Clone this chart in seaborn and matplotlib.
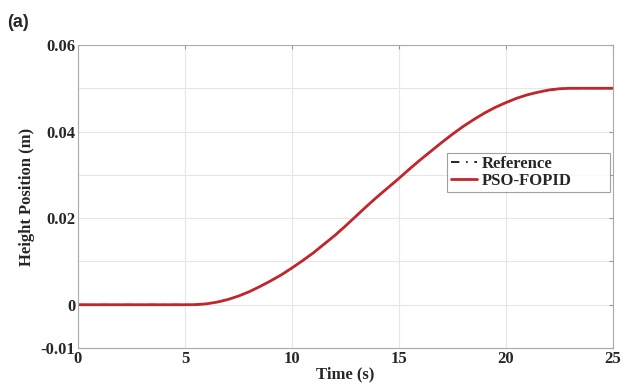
import numpy as np
import pandas as pd
import matplotlib.pyplot as plt
import seaborn as sns

# values (time in s, height in m)
time_s = [0, 1, 2, 3, 4, 5, 5.5, 6, 6.5, 7, 7.5, 8, 8.5, 9, 9.5, 10, 10.5, 11, 11.5,
          12, 12.5, 13, 13.5, 14, 14.5, 15, 15.5, 16, 16.5, 17, 17.5, 18, 18.5,
          19, 19.5, 20, 20.5, 21, 21.5, 22, 22.5, 23, 24, 25]
reference = [0, 0, 0, 0, 0, 0, 0.00002, 0.0002, 0.0006, 0.0012, 0.0020, 0.0030,
             0.0042, 0.0055, 0.0069, 0.0085, 0.0102, 0.0120, 0.0140, 0.0160,
             0.0182, 0.0205, 0.0228, 0.0250, 0.0271, 0.0292, 0.0314, 0.0335,
             0.0355, 0.0375, 0.0394, 0.0412, 0.0428, 0.0443, 0.0456, 0.0467,
             0.0477, 0.0485, 0.0491, 0.0496, 0.0499, 0.0500, 0.0500, 0.0500]
pso_fopid = [0, 0, 0, 0, 0, 0, 0.00002, 0.0002, 0.0006, 0.0012, 0.0020, 0.0030,
             0.0042, 0.0055, 0.0069, 0.0085, 0.0102, 0.0120, 0.0140, 0.0160,
             0.0182, 0.0205, 0.0228, 0.0250, 0.0271, 0.0292, 0.0314, 0.0335,
             0.0355, 0.0375, 0.0394, 0.0412, 0.0428, 0.0443, 0.0456, 0.0467,
             0.0477, 0.0485, 0.0491, 0.0496, 0.0499, 0.0500, 0.0500, 0.0500]
x_ticks = [0, 5, 10, 15, 20, 25]
y_ticks = [-0.01, 0, 0.01, 0.02, 0.03, 0.04, 0.05, 0.06]
y_labels = ['-0.01', '0', '', '0.02', '', '0.04', '', '0.06']

df = pd.DataFrame({'t': time_s, 'ref': reference, 'pso': pso_fopid})

sns.set_style('white')
plt.rcParams['font.family'] = ['Liberation Serif', 'DejaVu Serif']
plt.rcParams['font.weight'] = 'bold'

fig = plt.figure(figsize=(6.32, 3.88), dpi=100)
ax = fig.add_axes([0.1234, 0.1031, 0.8466, 0.7809])

sns.lineplot(data=df, x='t', y='pso', ax=ax, color='#c0262b', linewidth=2.0,
             label='PSO-FOPID', zorder=2)
sns.lineplot(data=df, x='t', y='ref', ax=ax, color='black', linewidth=1.2,
             linestyle=(0, (5, 4, 1, 4)), label='Reference', zorder=1)

ax.set_xlim(0, 25)
ax.set_ylim(-0.01, 0.06)
ax.set_xticks(x_ticks)
ax.set_xticklabels([str(v) for v in x_ticks], fontsize=12, fontweight='bold')
ax.set_yticks(y_ticks)
ax.set_yticklabels(y_labels, fontsize=12, fontweight='bold')
ax.grid(True, color='#e6e6e6', linewidth=0.8)
ax.tick_params(direction='in', length=3, color='#999999', pad=2, right=True, top=True)
for sp in ax.spines.values():
    sp.set_color('#aaaaaa')
    sp.set_linewidth(0.8)

ax.set_xlabel('Time (s)', fontsize=12, fontweight='bold', labelpad=0)
ax.set_ylabel('Height Position (m)', fontsize=12, fontweight='bold', labelpad=4)

handles, labels = ax.get_legend_handles_labels()
order = [labels.index('Reference'), labels.index('PSO-FOPID')]
leg = ax.legend([handles[i] for i in order], [labels[i] for i in order],
                loc='upper left', bbox_to_anchor=(0.69, 0.644, 0.304, 0.0),
                mode='expand', borderaxespad=0, frameon=True,
                fancybox=False, edgecolor='#888888', handlelength=1.6,
                handletextpad=0.25, borderpad=0.2, labelspacing=0.02,
                prop={'family': 'Liberation Serif', 'weight': 'bold', 'size': 12})
leg.get_frame().set_linewidth(0.8)

fig.text(0.012, 0.93, '(a)', fontsize=13, fontweight='bold', family='Liberation Sans')

fig.savefig('out.png', dpi=100)
